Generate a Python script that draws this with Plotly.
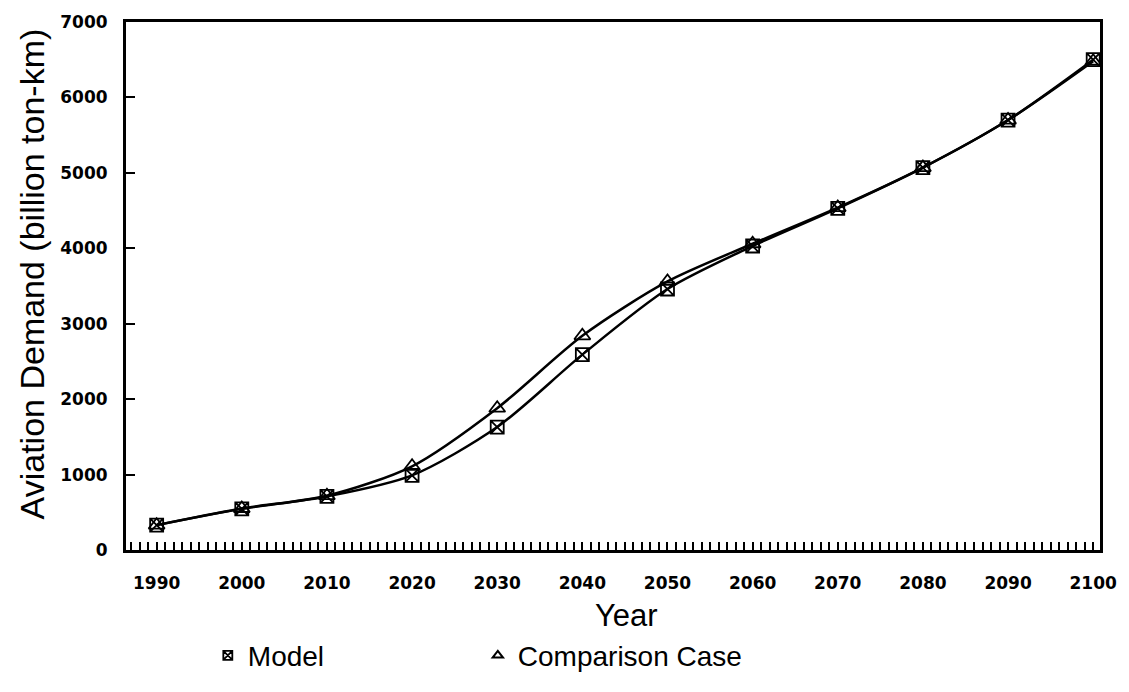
import plotly.graph_objects as go

years = [1990, 2000, 2010, 2020, 2030, 2040, 2050, 2060, 2070, 2080, 2090, 2100]
model = [330, 545, 710, 990, 1630, 2590, 3460, 4030, 4530, 5070, 5700, 6500]
comparison = [330, 550, 720, 1110, 1880, 2840, 3560, 4060, 4540, 5070, 5700, 6480]
x_ticks = [1990, 2000, 2010, 2020, 2030, 2040, 2050, 2060, 2070, 2080, 2090, 2100]
y_ticks = [0, 1000, 2000, 3000, 4000, 5000, 6000, 7000]

fig = go.Figure()
fig.add_trace(go.Scatter(
    x=years, y=model, mode="lines+markers", name="Model", showlegend=False,
    line=dict(color="black", width=2.5, shape="spline", smoothing=0.8),
    marker=dict(symbol="square-x-open", size=13, color="black", line=dict(width=1.8, color="black")),
))
fig.add_trace(go.Scatter(
    x=years, y=comparison, mode="lines+markers", name="Comparison Case", showlegend=False,
    line=dict(color="black", width=2.5, shape="spline", smoothing=0.8),
    marker=dict(symbol="triangle-up-open", size=14, color="black", line=dict(width=1.8, color="black")),
))
# legend-only entries (markers only)
fig.add_trace(go.Scatter(
    x=[None], y=[None], mode="markers", name="Model",
    marker=dict(symbol="square-x-open", size=9, color="black", line=dict(width=1.8, color="black")),
))
fig.add_trace(go.Scatter(
    x=[None], y=[None], mode="markers", name="Comparison Case",
    marker=dict(symbol="triangle-up-open", size=9, color="black", line=dict(width=2, color="black")),
))

tickfont = dict(family="DejaVu Sans", size=17, color="black", weight="bold")

fig.update_layout(
    width=1129, height=692,
    margin=dict(l=126, r=27, t=16, b=139),
    paper_bgcolor="white", plot_bgcolor="white",
    showlegend=True,
    legend=dict(
        orientation="h", x=0.084, y=-0.2, xanchor="left", yanchor="middle",
        font=dict(family="Liberation Sans", size=28, color="black"),
        entrywidth=225, entrywidthmode="pixels", bgcolor="rgba(0,0,0,0)",
    ),
    xaxis=dict(
        range=[1986.4, 2100.8], tickmode="array", tickvals=x_ticks,
        ticktext=[str(v) for v in x_ticks],
        ticks="inside", ticklen=8, tickwidth=1.5, tickcolor="black",
        minor=dict(dtick=1, ticks="inside", ticklen=8, tickwidth=1.5, tickcolor="black", showgrid=False),
        showline=True, linecolor="black", linewidth=3, mirror=True,
        showgrid=False, zeroline=False, tickfont=tickfont, ticklabelstandoff=16,
    ),
    yaxis=dict(
        range=[0, 7000], tickmode="array", tickvals=y_ticks,
        ticktext=[str(v) for v in y_ticks],
        ticks="inside", ticklen=9, tickwidth=1.5, tickcolor="black",
        showline=True, linecolor="black", linewidth=3, mirror=True,
        showgrid=False, zeroline=False, tickfont=tickfont, ticklabelstandoff=12,
    ),
    annotations=[
        dict(
            text="Year", xref="paper", yref="paper", x=0.514, y=-0.088,
            xanchor="center", yanchor="top", showarrow=False,
            font=dict(family="Liberation Sans", size=31, color="black"),
        ),
        dict(
            text="Aviation Demand (billion ton-km)", xref="paper", yref="paper",
            x=-0.097, y=0.523, xanchor="center", yanchor="middle", textangle=-90,
            showarrow=False, font=dict(family="Liberation Sans", size=34, color="black"),
        ),
    ],
)

fig.write_html("out.html")
